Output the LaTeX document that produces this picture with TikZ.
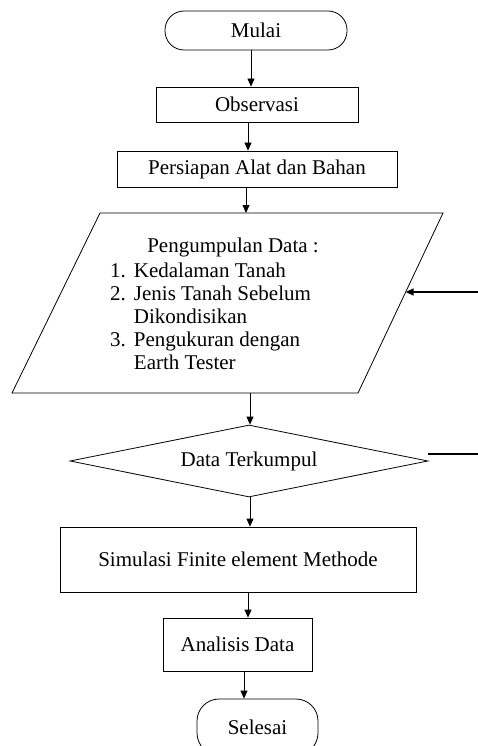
\documentclass[tikz,border=0pt]{standalone}
\usepackage{fontspec}
\setmainfont{Liberation Serif}
\usetikzlibrary{shapes.geometric,arrows.meta,calc}
\begin{document}
\begin{tikzpicture}[x=1pt,y=-1pt,
  every node/.style={font=\fontsize{21}{23}\selectfont, inner sep=0pt},
  boxstyle/.style={draw, line width=0.8pt, rectangle},
  termstyle/.style={draw, line width=0.8pt, rectangle, rounded corners=19pt},
  arr/.style={line width=0.8pt, -{Triangle[length=8pt,width=7pt]}},
  thickarr/.style={line width=1.6pt, -{Triangle[length=8pt,width=7pt]}},
  thickline/.style={line width=2.2pt}
]
\useasboundingbox (0,0) rectangle (477,746);

% nodes
\node[termstyle, minimum width=182pt, minimum height=39pt] (mulai) at (256,30.5) {Mulai};
\node[boxstyle, minimum width=202pt, minimum height=35pt] (obs) at (257,104.5) {Observasi};
\node[boxstyle, minimum width=280pt, minimum height=36pt] (pers) at (257,169) {Persiapan Alat dan Bahan};

% parallelogram
\coordinate (pTL) at (100,213);
\coordinate (pTR) at (443,213);
\coordinate (pBR) at (358,393);
\coordinate (pBL) at (12,393);
\draw[line width=0.8pt] (pTL) -- (pTR) -- (pBR) -- (pBL) -- cycle;
\coordinate (pTop) at (246,213);
\coordinate (pBot) at (250,393);
\node (ptitle) at (233,247) {Pengumpulan Data :};
\node[anchor=base west] (plist) at (110,277) {\begin{tabular}[t]{@{}l@{\hspace{8pt}}l@{}}
1. & Kedalaman Tanah\\
2. & Jenis Tanah Sebelum\\
   & Dikondisikan\\
3. & Pengukuran dengan\\
   & Earth Tester
\end{tabular}};

\node[draw, diamond, line width=0.8pt, minimum width=358pt, minimum height=72pt, aspect=4.97] (dec) at (249,461) {\raisebox{-2pt}{Data Terkumpul}};

\node[boxstyle, minimum width=356pt, minimum height=65pt] (sim) at (238,559.5) {Simulasi Finite element Methode};
\node[boxstyle, minimum width=149pt, minimum height=53pt] (anal) at (237.5,644.5) {Analisis Data};
\node[termstyle, rounded corners=22pt, minimum width=121pt, minimum height=56pt] (sel) at (257.5,727) {Selesai};

% connectors
\draw[arr] (mulai.south -| 251,0) -- (obs.north -| 251,0);
\draw[arr] (obs.south -| 248,0) -- (pers.north -| 248,0);
\draw[arr] (pers.south -| pTop) -- (pTop);
\draw[arr] (pBot) -- (dec.north -| pBot);
\draw[arr] (dec.south -| 250,0) -- (sim.north -| 250,0);
\draw[arr] (sim.south -| 248,0) -- (anal.north -| 248,0);
\draw[arr] (anal.south -| 244,0) -- (sel.north -| 244,0);

% side connectors
\coordinate (rin) at ($(pTR)!79/180!(pBR)$);
\coordinate (rfree) at (480,0 |- rin);
\draw[thickarr] (rfree) -- (rin);
\coordinate (lstart) at (428,454);
\coordinate (lfree) at (480,454);
\draw[thickline] (lstart) -- (lfree);
\end{tikzpicture}
\end{document}
